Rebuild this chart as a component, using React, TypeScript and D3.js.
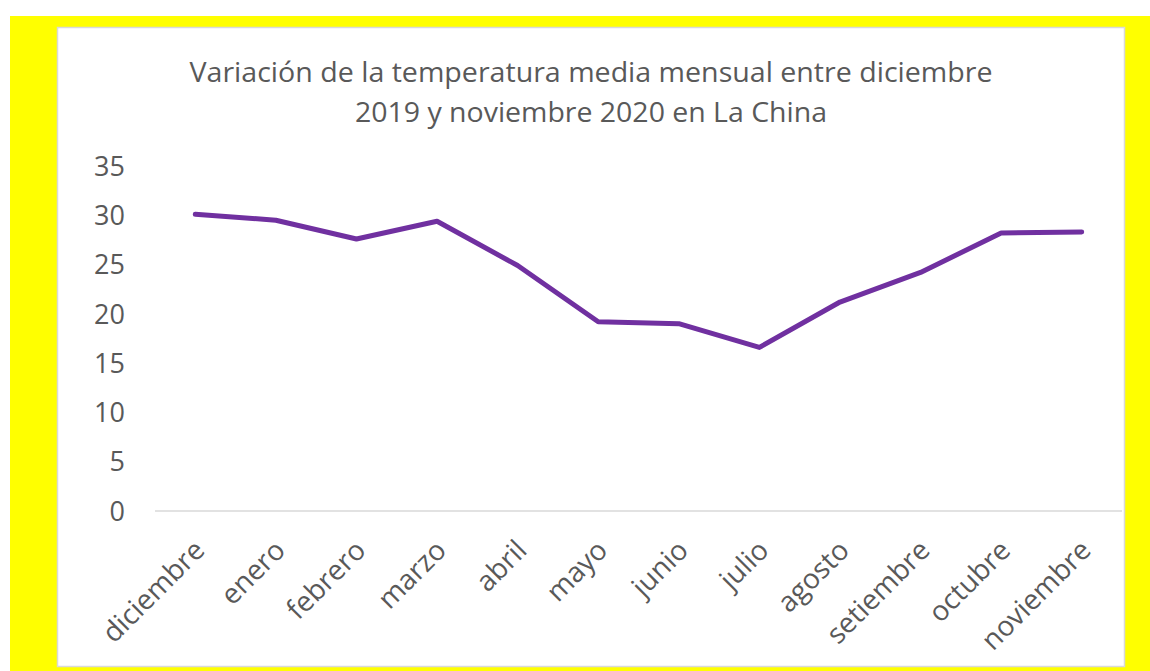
import { useEffect, useRef } from "react";
import * as d3 from "d3";

const months = [
  "diciembre", "enero", "febrero", "marzo", "abril", "mayo",
  "junio", "julio", "agosto", "setiembre", "octubre", "noviembre",
];
const temps = [30.1, 29.5, 27.6, 29.4, 24.9, 19.2, 19.0, 16.6, 21.2, 24.2, 28.2, 28.3];
const yTicks = [0, 5, 10, 15, 20, 25, 30, 35];
const titleLines = [
  "Variación de la temperatura media mensual entre diciembre",
  "2019 y noviembre 2020 en La China",
];

const W = 1150;
const H = 671;
const FONT = "'Open Sans', 'Noto Sans', sans-serif";
const TEXT = "#595959";

export default function App() {
  const ref = useRef<SVGSVGElement>(null);

  useEffect(() => {
    const svg = d3.select(ref.current);
    svg.selectAll("*").remove();

    // yellow frame + white chart area
    svg.append("rect").attr("x", 10).attr("y", 16).attr("width", W - 10).attr("height", H - 16).attr("fill", "#ffff00");
    svg.append("rect").attr("x", 57.5).attr("y", 27.5).attr("width", 1067).attr("height", 639)
      .attr("fill", "#fff").attr("stroke", "#d9d9d9").attr("stroke-width", 1.5);

    const x = d3.scaleBand().domain(months).range([155, 1122]);
    const y = d3.scaleLinear().domain([0, 35]).range([511, 166]);

    // title
    svg.append("g").selectAll("text").data(titleLines).join("text")
      .attr("x", 591).attr("y", (_, i) => 82 + i * 40)
      .attr("text-anchor", "middle")
      .attr("font-family", FONT).attr("font-size", 28).attr("fill", TEXT)
      .attr("textLength", (_, i) => (i === 0 ? 803 : 472)).attr("lengthAdjust", "spacingAndGlyphs")
      .text((d) => d);

    // y labels
    svg.append("g").selectAll("text").data(yTicks).join("text")
      .attr("x", 125).attr("y", (d) => y(d)).attr("dy", "0.36em")
      .attr("text-anchor", "end")
      .attr("font-family", FONT).attr("font-size", 27).attr("fill", TEXT)
      .text((d) => d);

    // x axis line
    svg.append("line").attr("x1", 155).attr("x2", 1122).attr("y1", y(0)).attr("y2", y(0))
      .attr("stroke", "#d9d9d9").attr("stroke-width", 1.5);

    // x labels, rotated
    svg.append("g").selectAll("text").data(months).join("text")
      .attr("transform", (d) => `translate(${x(d)! + x.bandwidth() / 2 + 11},${y(0) + 41}) rotate(-45)`)
      .attr("text-anchor", "end")
      .attr("font-family", FONT).attr("font-size", 28).attr("fill", TEXT)
      .text((d) => d);

    // line
    const line = d3.line<number>()
      .x((_, i) => x(months[i])! + x.bandwidth() / 2)
      .y((d) => y(d));
    svg.append("path").datum(temps).attr("d", line)
      .attr("fill", "none").attr("stroke", "#7030a0").attr("stroke-width", 5)
      .attr("stroke-linecap", "round").attr("stroke-linejoin", "round");
  }, []);

  return (
    <svg ref={ref} width={W} height={H} style={{ position: "absolute", left: 0, top: 0 }} />
  );
}
